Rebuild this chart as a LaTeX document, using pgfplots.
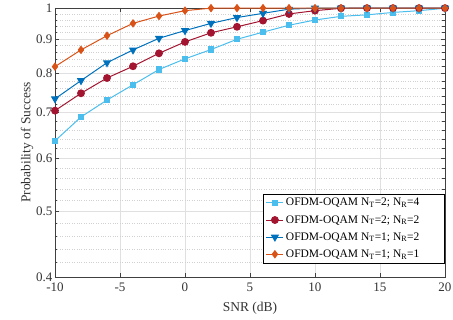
\documentclass[border=0pt]{standalone}
\usepackage{pgfplots}
\pgfplotsset{compat=1.18}
\usepackage{fontspec}
\setmainfont{Liberation Serif}
\definecolor{cA}{rgb}{0.30,0.745,0.933}
\definecolor{cB}{rgb}{0.635,0.078,0.184}
\definecolor{cC}{rgb}{0,0.447,0.741}
\definecolor{cD}{rgb}{0.85,0.325,0.098}
\begin{document}
\begin{tikzpicture}
\useasboundingbox (-55pt,-43pt) rectangle (398pt,277pt);
\begin{axis}[
  at={(0pt,0pt)}, anchor=south west,
  scale only axis, width=390pt, height=269pt,
  xmin=-10, xmax=20, ymode=log, ymin=0.4, ymax=1,
  xtick={-10,-5,0,5,10,15,20},
  xticklabels={-10,-5,0,5,10,15,20},
  ytick={0.4,0.5,0.6,0.7,0.8,0.9,1},
  yticklabels={0.4,0.5,0.6,0.7,0.8,0.9,1},
  minor ytick={0.42,0.44,0.46,0.48,0.52,0.54,0.56,0.58,0.62,0.64,0.66,0.68,0.72,0.74,0.76,0.78,0.82,0.84,0.86,0.88,0.92,0.94,0.96,0.98},
  grid=both,
  major grid style={color=black!12, line width=0.6pt},
  minor grid style={color=black!18, dotted, line width=0.5pt},
  tick align=inside, tick pos=both,
  major tick length=4pt, minor tick length=2.5pt,
  every tick/.style={color=black!75, line width=0.5pt},
  axis line style={color=black!75, line width=0.6pt},
  tick label style={font=\fontsize{13}{14}\selectfont, color=black!80},
  xticklabel style={yshift=-2pt},
  yticklabel style={xshift=1pt},
  xlabel={SNR (dB)}, ylabel={Probability of Success},
  label style={font=\fontsize{13.5}{15}\selectfont, color=black!80},
  xlabel style={yshift=-4pt},
  ylabel style={yshift=-4pt},
  legend cell align=left,
  legend style={at={(0.998,0.05)}, anchor=south east, draw=black, line width=0.5pt,
    font=\fontsize{11.5}{13}\selectfont, row sep=4pt, inner sep=2.5pt,
    /tikz/every even column/.append style={column sep=0pt}},
  every axis plot/.append style={line width=1pt},
]
\addplot[color=cA, mark=square*, mark size=2.6pt, mark options={fill=cA}] coordinates {
(-10,0.636) (-8,0.690) (-6,0.731) (-4,0.770) (-2,0.811) (0,0.841) (2,0.868) (4,0.899)
(6,0.921) (8,0.943) (10,0.960) (12,0.972) (14,0.977) (16,0.985) (18,0.991) (20,0.999)};
\addlegendentry{OFDM-OQAM N\textsubscript{T}=2; N\textsubscript{R}=4\hspace*{20pt}}
\addplot[color=cB, mark=*, mark size=3.4pt, mark options={fill=cB}] coordinates {
(-10,0.705) (-8,0.748) (-6,0.788) (-4,0.820) (-2,0.857) (0,0.891) (2,0.919) (4,0.938)
(6,0.958) (8,0.980) (10,0.991) (12,0.999) (14,0.9995) (16,0.9995) (18,0.9995) (20,0.9995)};
\addlegendentry{OFDM-OQAM N\textsubscript{T}=2; N\textsubscript{R}=2}
\addplot[color=cC, mark=triangle*, mark size=3.8pt, mark options={fill=cC, rotate=180}] coordinates {
(-10,0.734) (-8,0.781) (-6,0.830) (-4,0.867) (-2,0.902) (0,0.926) (2,0.949) (4,0.968)
(6,0.982) (8,0.996) (10,0.9995) (12,0.9995) (14,0.9995) (16,0.9995) (18,0.9995) (20,0.9995)};
\addlegendentry{OFDM-OQAM N\textsubscript{T}=1; N\textsubscript{R}=2}
\addplot[color=cD, mark=diamond*, mark size=3.5pt, mark options={fill=cD}] coordinates {
(-10,0.819) (-8,0.867) (-6,0.910) (-4,0.949) (-2,0.973) (0,0.991) (2,0.9995) (4,0.9995)
(6,0.9995) (8,0.9995) (10,0.9995) (12,0.9995) (14,0.9995) (16,0.9995) (18,0.9995) (20,0.9995)};
\addlegendentry{OFDM-OQAM N\textsubscript{T}=1; N\textsubscript{R}=1}
\end{axis}
\end{tikzpicture}
\end{document}
